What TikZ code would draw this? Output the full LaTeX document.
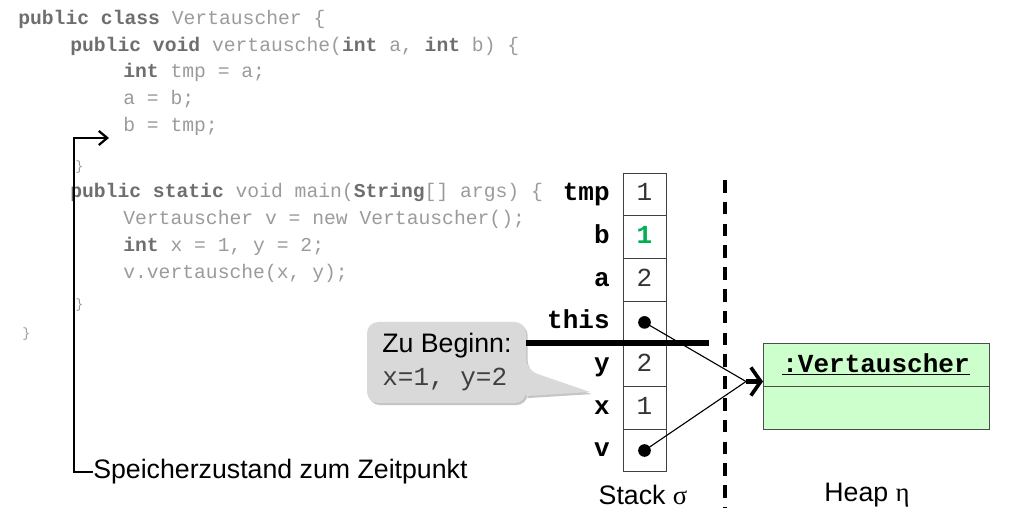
\documentclass[tikz,border=0pt]{standalone}
\usepackage{fontspec}
\setmainfont{Liberation Sans}
\setmonofont{Liberation Mono}
\newfontfamily\greekfont{Liberation Serif}
\usetikzlibrary{positioning,arrows.meta,shadows}
\definecolor{codegray}{RGB}{155,155,155}
\definecolor{kwgray}{RGB}{110,110,110}
\definecolor{valgreen}{RGB}{0,176,80}
\definecolor{heapgreen}{RGB}{204,255,204}
\definecolor{notegray}{RGB}{217,217,217}
\newcommand{\kw}[1]{\textbf{\textcolor{kwgray}{#1}}}
\tikzset{
    codeline/.style={anchor=base west, inner sep=0pt, text=codegray, font=\ttfamily\fontsize{14}{16}\selectfont},
    codebrace/.style={anchor=base west, inner sep=0pt, text=codegray, font=\ttfamily\fontsize{9.5}{11}\selectfont},
    stackcell/.style={draw=black!75, line width=0.6pt, minimum width=30.6pt, minimum height=30.4pt, inner sep=0pt, text height=13pt, text depth=4pt, text=black!80, font=\ttfamily\fontsize{18.5}{20}\selectfont},
    stacklabel/.style={inner sep=0pt, text height=13pt, text depth=4pt, font=\ttfamily\bfseries\fontsize{18.5}{20}\selectfont},
    heapbox/.style={draw=black!70, fill=heapgreen, line width=0.6pt, minimum width=160.8pt, minimum height=30.6pt, inner sep=0pt, font=\ttfamily\bfseries\fontsize{18.5}{20}\selectfont},
    areacaption/.style={inner sep=0pt, font=\fontsize{19}{22}\selectfont},
    refline/.style={line width=0.8pt},
    heapdivider/.style={line width=2.4pt, dash pattern=on 9pt off 6.5pt},
    notebox/.style={fill=notegray, drop shadow={shadow xshift=1.2pt, shadow yshift=-1.5pt, fill=black!45, opacity=.5}}
}
\begin{document}
\begin{tikzpicture}[x=0.025cm, y=-0.025cm]
    \useasboundingbox (0,0) rectangle (1022,518);
    \node[codeline] (c1) at (18,25) {\kw{public class} Vertauscher \{};
    \node[codeline] (c2) at (70,52) {\kw{public void} vertausche(\kw{int} a, \kw{int} b) \{};
    \node[codeline] (c3) at (123,78) {\kw{int} tmp = a;};
    \node[codeline] (c4) at (123,105) {a = b;};
    \node[codeline] (c5) at (123,131.5) {b = tmp;};
    \node[codebrace] (b1) at (75,171) {\}};
    \node[codeline] (c6) at (70,197.5) {\kw{public static} void main(\kw{String}[] args) \{};
    \node[codeline] (c7) at (123,225) {Vertauscher v = new Vertauscher();};
    \node[codeline] (c8) at (123,252) {\kw{int} x = 1, y = 2;};
    \node[codeline] (c9) at (123,278.5) {v.vertausche(x, y);};
    \node[codebrace] (b2) at (75,309) {\}};
    \node[codebrace] (b3) at (22,337) {\}};

    \foreach \lbl/\val [count=\i from 0] in {tmp/1, b/{\textcolor{valgreen}{\textbf{1}}}, a/2, this/, y/2, x/1, v/}{
        \node[stackcell] (s-\lbl) at (644.5,194.3+42.7*\i) {\val};
        \node[stacklabel, left=9pt of s-\lbl] (l-\lbl) {\lbl};
    }
    \fill (s-this) circle [radius=4.5pt];
    \fill (s-v) circle [radius=4.5pt];

    \filldraw[notebox, draw=none] (446,322) [rounded corners=8pt] -- (526,322) -- (526,370) [sharp corners] -- (590,392) -- (526,396) [rounded corners=8pt] -- (526,403) -- (367,403) -- (367,322) -- (446,322);
    \node[areacaption, anchor=north west, align=left, font=\fontsize{19}{23.5}\selectfont] (note) at (382,333) {Zu Beginn:\\{\ttfamily\fontsize{18.5}{20}\selectfont\color{black!75} x=1, y=2}};

    \draw[line width=3.6pt] (526,343) -- (709,343);
    \draw[heapdivider] (725,180) -- (725,508);

    \node[heapbox] (obj) at (876,364.5) {\underline{:Vertauscher}};
    \node[heapbox, below=0pt of obj] (objfields) {};

    \coordinate (objbar) at (746,381.5);
    \coordinate (objin) at (763,381.5);
    \draw[refline] (s-this.center) -- (objbar);
    \draw[refline] (s-v.center) -- (objbar);
    \draw[line width=3.2pt, -{Straight Barb[length=7pt, width=20pt, line width=2.6pt]}] (objbar) -- (objin);

    \node[areacaption, anchor=west] (cap) at (93,472) {Speicherzustand zum Zeitpunkt};
    \coordinate (codeptr) at (109,138);
    \draw[line width=1pt, -{Straight Barb[length=6pt, width=10pt, line width=1.6pt]}] (cap.west) -| (74,300) |- (codeptr);

    \node[areacaption] (stacklbl) at (643,495) {Stack {\greekfont σ}};
    \node[areacaption] (heaplbl) at (867,495) {Heap {\greekfont η}};
\end{tikzpicture}
\end{document}
